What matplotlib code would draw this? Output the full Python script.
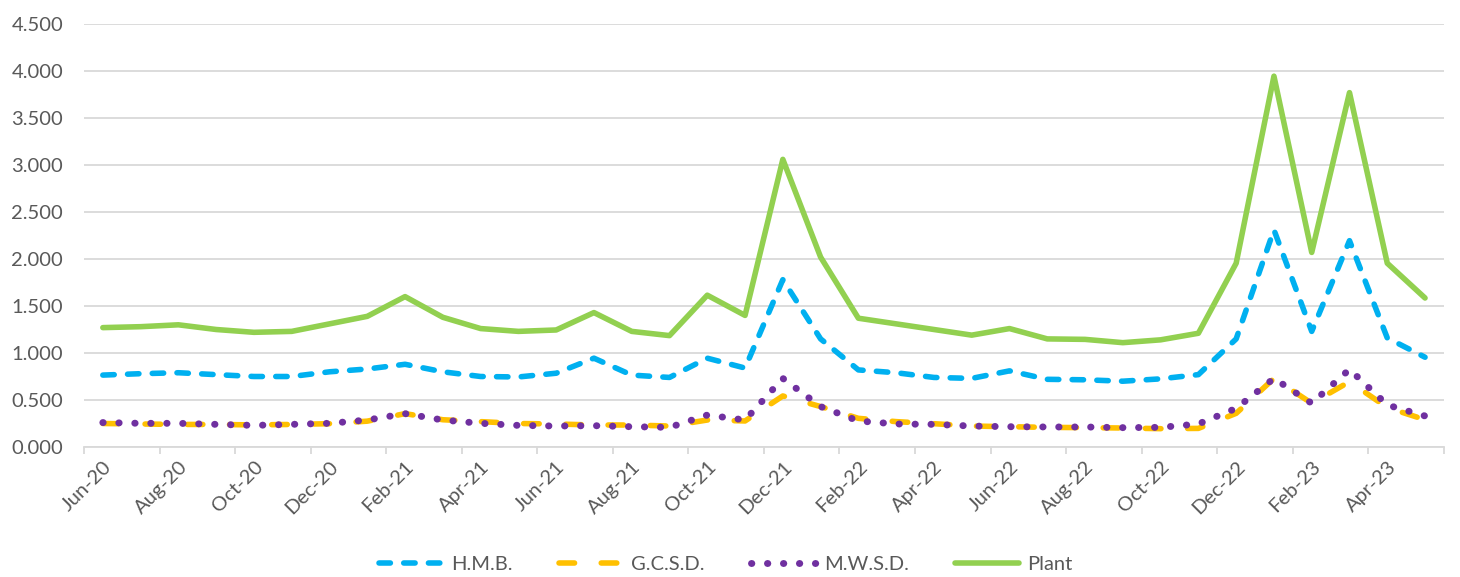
import matplotlib
matplotlib.use("Agg")
import matplotlib.pyplot as plt
import numpy as np

# monthly averages, Jun-20 .. May-23
months = ["Jun-20", "Jul-20", "Aug-20", "Sep-20", "Oct-20", "Nov-20", "Dec-20",
          "Jan-21", "Feb-21", "Mar-21", "Apr-21", "May-21", "Jun-21", "Jul-21",
          "Aug-21", "Sep-21", "Oct-21", "Nov-21", "Dec-21", "Jan-22", "Feb-22",
          "Mar-22", "Apr-22", "May-22", "Jun-22", "Jul-22", "Aug-22", "Sep-22",
          "Oct-22", "Nov-22", "Dec-22", "Jan-23", "Feb-23", "Mar-23", "Apr-23",
          "May-23"]

hmb = [0.765, 0.78, 0.79, 0.77, 0.75, 0.75, 0.80, 0.83, 0.88, 0.80, 0.75, 0.745,
       0.785, 0.945, 0.765, 0.74, 0.945, 0.84, 1.78, 1.15, 0.82, 0.79, 0.74, 0.73,
       0.81, 0.72, 0.715, 0.70, 0.725, 0.77, 1.15, 2.31, 1.23, 2.195, 1.16, 0.955]

gcsd = [0.25, 0.245, 0.24, 0.24, 0.235, 0.24, 0.248, 0.275, 0.355, 0.29, 0.27, 0.25,
        0.245, 0.234, 0.234, 0.223, 0.287, 0.277, 0.543, 0.43, 0.305, 0.27, 0.248,
        0.223, 0.216, 0.209, 0.206, 0.202, 0.195, 0.198, 0.358, 0.73, 0.465, 0.695,
        0.42, 0.29]

mwsd = [0.26, 0.252, 0.252, 0.241, 0.23, 0.241, 0.252, 0.287, 0.355, 0.287, 0.252,
        0.23, 0.223, 0.227, 0.216, 0.209, 0.34, 0.287, 0.73, 0.43, 0.277, 0.245,
        0.241, 0.223, 0.216, 0.213, 0.213, 0.206, 0.209, 0.245, 0.411, 0.73, 0.465,
        0.826, 0.447, 0.33]

plant = [1.27, 1.28, 1.30, 1.25, 1.22, 1.23, 1.31, 1.39, 1.60, 1.38, 1.26, 1.23,
         1.245, 1.43, 1.23, 1.185, 1.615, 1.40, 3.06, 2.02, 1.37, 1.31, 1.25, 1.19,
         1.26, 1.15, 1.145, 1.11, 1.14, 1.21, 1.955, 3.945, 2.07, 3.77, 1.955, 1.585]

plt.rcParams['font.family'] = ['Lato', 'DejaVu Sans']
TXT = '#595959'
GRID = '#D9D9D9'
LW = 4.0
FS = 14.5

fig = plt.figure(figsize=(14.6, 5.77), dpi=100)
ax = fig.add_axes([0.0575, 0.2253, 0.9315, 0.7331])

x = np.arange(len(months))
ax.plot(x, hmb, color='#00B0F0', lw=LW, dashes=(2.05, 2.4),
        dash_capstyle='round', solid_joinstyle='round', label='H.M.B.')
ax.plot(x, gcsd, color='#FFC000', lw=LW, dashes=(2.8, 4.8),
        dash_capstyle='round', label='G.C.S.D.')
ax.plot(x, mwsd, color='#7030A0', lw=5.0, dashes=(0.05, 2.25),
        dash_capstyle='round', label='M.W.S.D.')
ax.plot(x, plant, color='#92D050', lw=LW, solid_capstyle='round',
        solid_joinstyle='round', label='Plant')

ax.set_xlim(-0.5, len(months) - 0.5)
ax.set_ylim(0, 4.5)
ax.set_yticks(np.arange(0, 4.51, 0.5))
ax.set_yticklabels(['{:.3f}'.format(v) for v in np.arange(0, 4.51, 0.5)])
ax.grid(axis='y', color=GRID, lw=1.3)
ax.set_axisbelow(True)

for s in ['top', 'right', 'left']:
    ax.spines[s].set_visible(False)
ax.spines['bottom'].set_color(GRID)
ax.spines['bottom'].set_linewidth(1.3)

ax.set_xticks(x[::2])
ax.set_xticklabels(months[::2], rotation=45, ha='right', rotation_mode='anchor')
ax.set_xticks(np.arange(-0.5, len(months), 2), minor=True)
ax.tick_params(axis='x', which='major', length=0, pad=8, labelsize=FS, labelcolor=TXT)
ax.tick_params(axis='x', which='minor', length=5, width=1.3, color=GRID)
ax.tick_params(axis='y', length=0, pad=15, labelsize=FS, labelcolor=TXT)

leg = fig.legend(loc='center', bbox_to_anchor=(0.497, 0.022), ncol=4, frameon=False,
                 fontsize=FS, handlelength=3.2, handletextpad=0.4, columnspacing=2.3)
for t in leg.get_texts():
    t.set_color(TXT)

fig.savefig('out.png', dpi=100)
